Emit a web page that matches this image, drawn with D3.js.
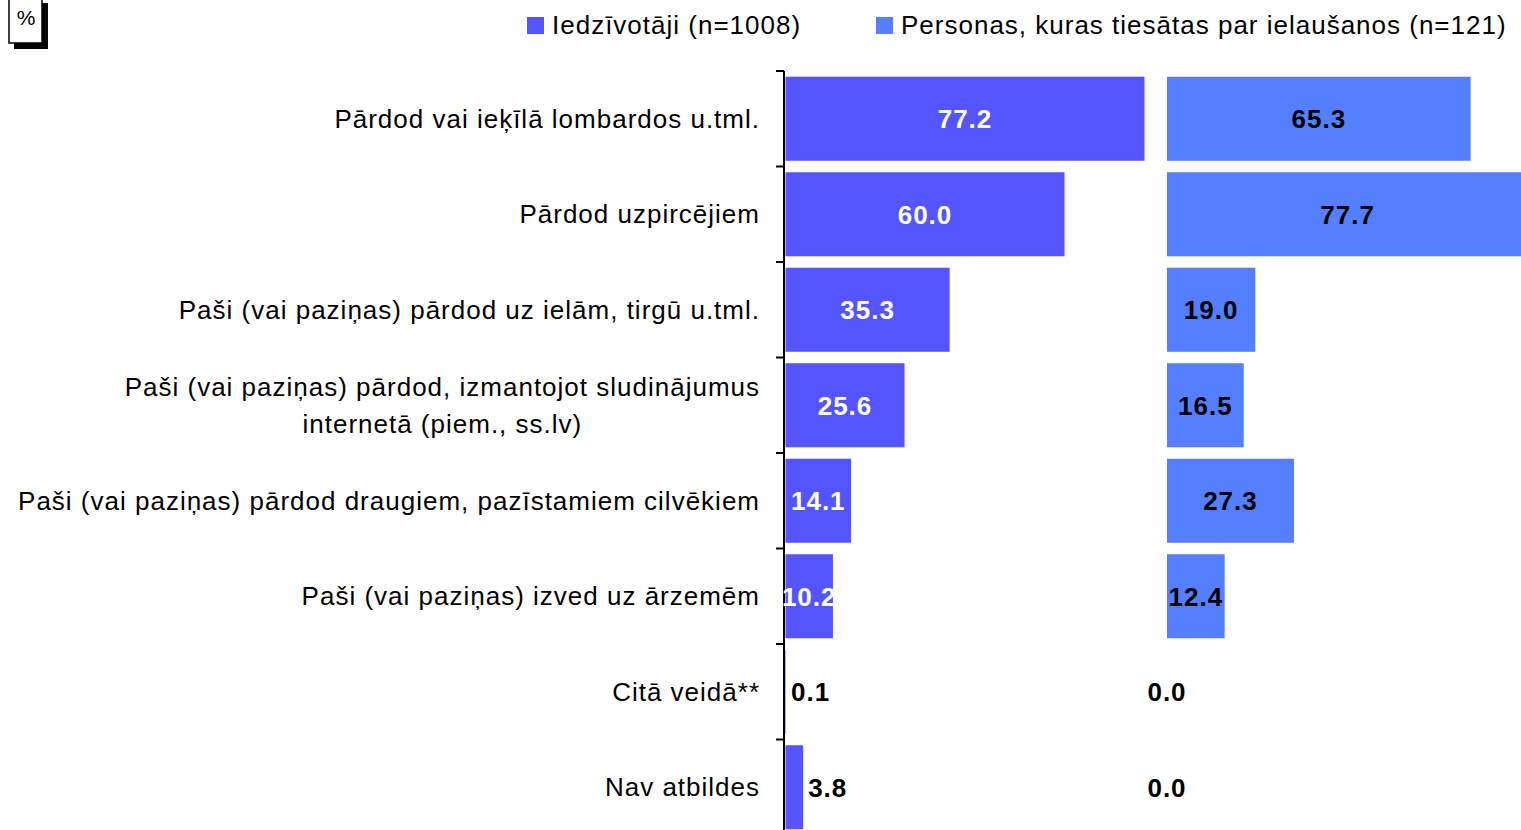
<!DOCTYPE html>
<html>
<head>
<meta charset="utf-8">
<script src="https://cdn.jsdelivr.net/npm/d3@7"></script>
<style>
  body { margin: 0; background: #fff; }
  svg { display: block; font-family: "Liberation Sans", Arial, sans-serif; }
  .sp { letter-spacing: 1px; }
</style>
</head>
<body>
<svg width="1521" height="830"></svg>
<script>
var categories = [
  ["Pārdod vai ieķīlā lombardos u.tml."],
  ["Pārdod uzpircējiem"],
  ["Paši (vai paziņas) pārdod uz ielām, tirgū u.tml."],
  ["Paši (vai paziņas) pārdod, izmantojot sludinājumus", "internetā (piem., ss.lv)"],
  ["Paši (vai paziņas) pārdod draugiem, pazīstamiem cilvēkiem"],
  ["Paši (vai paziņas) izved uz ārzemēm"],
  ["Citā veidā**"],
  ["Nav atbildes"]
];
var residents = [77.2, 60.0, 35.3, 25.6, 14.1, 10.2, 0.1, 3.8];
var convicted = [65.3, 77.7, 19.0, 16.5, 27.3, 12.4, 0.0, 0.0];
var seriesNames = ["Iedzīvotāji (n=1008)", "Personas, kuras tiesātas par ielaušanos (n=121)"];
var colors = ["#5555ff", "#557fff"];

var svg = d3.select("svg");

var y = d3.scaleBand()
    .domain(d3.range(categories.length))
    .range([71, 835])
    .paddingInner(0.12)
    .paddingOuter(0.06);

var xL = d3.scaleLinear().domain([0, 100]).range([785.5, 1250.5]);
var xR = d3.scaleLinear().domain([0, 100]).range([1167, 1632]);

// "%" box
svg.append("rect").attr("x", 14).attr("y", 3).attr("width", 34).attr("height", 46).attr("fill", "#000");
svg.append("rect").attr("x", 9).attr("y", -2).attr("width", 33).attr("height", 45)
    .attr("fill", "#fff").attr("stroke", "#000").attr("stroke-width", 1.5);
svg.append("text").attr("x", 26).attr("y", 25).attr("text-anchor", "middle")
    .style("font-size", "21px").text("%");

// legend
var legend = svg.append("g");
var legendX = [527, 876];
seriesNames.forEach(function(name, i) {
  legend.append("rect").attr("x", legendX[i]).attr("y", 17).attr("width", 17).attr("height", 17)
      .attr("fill", colors[i]);
  legend.append("text").attr("class", "sp").attr("x", legendX[i] + 25).attr("y", 25).attr("dy", "0.35em")
      .style("font-size", "26px").text(name);
});

// left axis with ticks on band boundaries
svg.append("line")
    .attr("x1", 784).attr("x2", 784)
    .attr("y1", y.range()[0]).attr("y2", y.range()[1])
    .attr("stroke", "#000").attr("stroke-width", 2);
svg.selectAll(".tick").data(d3.range(categories.length + 1)).enter().append("line")
    .attr("class", "tick")
    .attr("x1", 776).attr("x2", 784)
    .attr("y1", function(i) { return y.range()[0] + i * y.step(); })
    .attr("y2", function(i) { return y.range()[0] + i * y.step(); })
    .attr("stroke", "#000").attr("stroke-width", 2);

// category labels
categories.forEach(function(lines, i) {
  var cy = y(i) + y.bandwidth() / 2;
  var t = svg.append("text").attr("class", "sp").style("font-size", "26px").attr("text-anchor", "middle");
  var lh = 37;
  lines.forEach(function(l, j) {
    t.append("tspan").attr("x", 0)
        .attr("y", cy + (j - (lines.length - 1) / 2) * lh)
        .attr("dy", "0.35em").text(l);
  });
  var w = t.node().getBBox().width;
  t.selectAll("tspan").attr("x", 760 - w / 2);
});

// bars
function drawSeries(values, x, color, labelColor, small) {
  var g = svg.append("g");
  g.selectAll("rect").data(values).enter().append("rect")
      .attr("x", x(0))
      .attr("y", function(d, i) { return y(i); })
      .attr("width", function(d) { return x(d) - x(0); })
      .attr("height", y.bandwidth())
      .attr("fill", color);
  g.selectAll("text").data(values).enter().append("text")
      .attr("class", "sp")
      .attr("y", function(d, i) { return y(i) + y.bandwidth() / 2; })
      .attr("dy", "0.36em")
      .style("font-size", "26px").style("font-weight", "bold")
      .each(function(d) {
        var s = d3.select(this);
        if (d >= 10) {
          s.attr("x", (x(0) + x(d)) / 2).attr("text-anchor", "middle").attr("fill", labelColor);
        } else small(s, d);
      })
      .text(function(d) { return d3.format(".1f")(d); });
}

drawSeries(residents, xL, colors[0], "#fff", function(s, d) {
  s.attr("x", xL(d) + 5).attr("text-anchor", "start").attr("fill", "#000");
});
drawSeries(convicted, xR, colors[1], "#000", function(s, d) {
  if (d > 0) s.attr("x", (xR(0) + xR(d)) / 2).attr("text-anchor", "middle");
  else s.attr("x", xR(0)).attr("text-anchor", "middle");
  s.attr("fill", "#000");
});
</script>
</body>
</html>
